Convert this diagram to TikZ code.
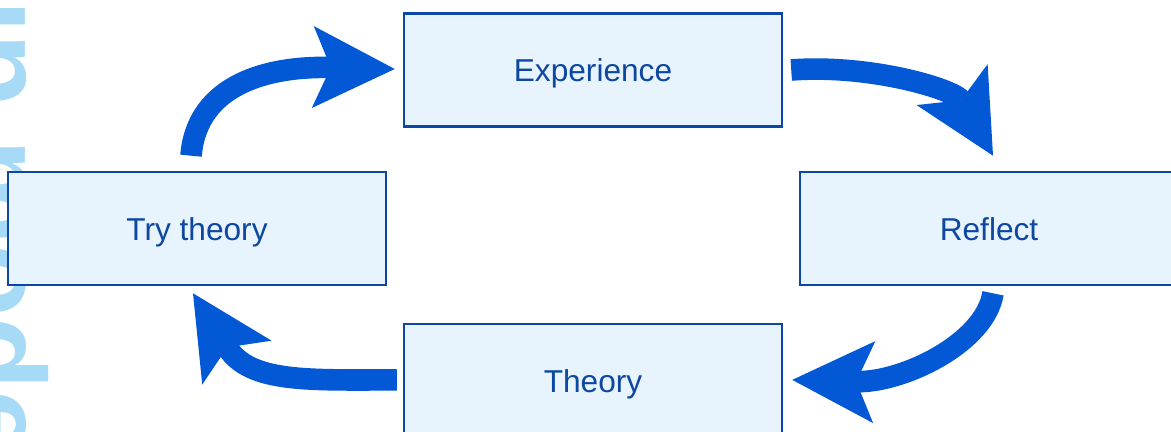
\documentclass[tikz,border=0pt]{standalone}
\usepackage{fontspec}
\setmainfont{Liberation Sans}
\usetikzlibrary{arrows.meta, positioning, calc}

\definecolor{boxline}{HTML}{0E46A8}
\definecolor{boxfill}{HTML}{E8F4FD}
\definecolor{boxtext}{HTML}{0D47A1}
\definecolor{arrowblue}{HTML}{0358D6}
\definecolor{wmblue}{HTML}{A6DAF6}

\begin{document}
\begin{tikzpicture}[
    x=0.025cm, y=-0.025cm,
    box/.style={draw=boxline, fill=boxfill, line width=0.06cm, minimum width=9.45cm, minimum height=2.83cm, inner sep=0pt, text height=17pt, text depth=0pt, text=boxtext, font=\fontsize{22.5}{27}\selectfont},
    flowarrow/.style={draw=arrowblue, line width=0.54cm, -{Stealth[length=2.05cm, width=2.05cm, inset=0.45cm, line width=0pt]}},
    backtext/.style={text=wmblue, inner sep=0pt, font=\fontsize{84.6}{90}\selectfont\bfseries}
]
  \useasboundingbox (0,0) rectangle (1171,432);
  \clip (0,0) rectangle (1171,432);

  % Faded side text (cut by the page edge)
  \node[backtext, rotate=-90, anchor=base west] (wm) at (-37,-251) {Group mode};

  % The four stages
  \node[box] (exp) at (593,70) {Experience};
  \node[box, below=4.88cm of exp] (theory) {Theory};
  \node[box] (try) at (197,228.5) {Try theory};
  \node[box] (refl) at (989,228.5) {Reflect};

  % Curved arrows round the cycle
  \draw[flowarrow] ($(try.north)+(-6,-15)$) .. controls ($(try.north)+(0,-87)$) and ($(exp.west)+(-134,-4)$) .. ($(exp.west)+(-8,-1)$);
  \draw[flowarrow] ($(exp.east)+(8,0)$) .. controls ($(exp.east)+(88,-6)$) and ($(refl.north)+(-34,-81)$) .. ($(refl.north)+(4,-15)$);
  \draw[flowarrow] ($(refl.south)+(4,7)$) .. controls ($(refl.south)+(-4,57)$) and ($(theory.east)+(119,2)$) .. ($(theory.east)+(9,-1)$);
  \draw[flowarrow] ($(theory.west)+(-6,-1)$) .. controls ($(theory.west)+(-94,-1)$) and ($(try.south)+(53,97)$) .. ($(try.south)+(-4,7)$);

\end{tikzpicture}
\end{document}
